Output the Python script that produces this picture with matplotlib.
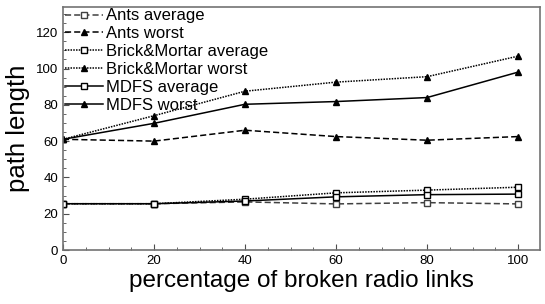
import matplotlib
matplotlib.use('Agg')
import matplotlib.pyplot as plt
from matplotlib.ticker import MultipleLocator

plt.rcParams['font.family'] = ['Liberation Sans', 'DejaVu Sans']

# ====== data ======
x = [0, 20, 40, 60, 80, 100]
ants_avg = [25.5, 25.5, 26.5, 25.4, 26.1, 25.4]
ants_worst = [61, 60, 66, 62.5, 60.5, 62.5]
bm_avg = [25.5, 25.5, 28, 31.5, 33, 34.6]
bm_worst = [61, 74, 87.5, 92.5, 95.5, 106.8]
mdfs_avg = [25.5, 25.5, 27, 29.3, 30.5, 30.8]
mdfs_worst = [61, 69.8, 80.3, 81.8, 84, 98]

# ====== plot ======
fig = plt.figure(figsize=(5.45, 3.04), dpi=100)
ax = fig.add_axes([0.1156, 0.1776, 0.875, 0.80])

sq = dict(marker='s', markersize=4, markerfacecolor='white', markeredgewidth=1.0)
tri = dict(marker='^', markersize=5)
lw = 1.1

ax.plot(x, ants_avg, linestyle=(0, (4, 2)), color='0.25', lw=lw, label='Ants average', **sq)
ax.plot(x, ants_worst, linestyle=(0, (4, 2)), color='black', lw=lw, label='Ants worst', **tri)
ax.plot(x, bm_avg, linestyle=(0, (1, 0.8)), color='black', lw=lw, label='Brick&Mortar average', **sq)
ax.plot(x, bm_worst, linestyle=(0, (1, 0.8)), color='black', lw=lw, label='Brick&Mortar worst', **tri)
ax.plot(x, mdfs_avg, linestyle='-', color='black', lw=lw, label='MDFS average', **sq)
ax.plot(x, mdfs_worst, linestyle='-', color='black', lw=lw, label='MDFS worst', **tri)

ax.set_xlim(0, 104.8)
ax.set_ylim(0, 134)
ax.set_xticks([0, 20, 40, 60, 80, 100])
ax.set_yticks([0, 20, 40, 60, 80, 100, 120])
ax.xaxis.set_minor_locator(MultipleLocator(5))
ax.yaxis.set_minor_locator(MultipleLocator(5))
ax.tick_params(which='both', direction='in', labelsize=9.5, color='0.3')
ax.tick_params(which='major', length=4)
ax.tick_params(which='minor', length=2)
for s in ax.spines.values():
    s.set_color('0.45')
    s.set_linewidth(1.2)

ax.set_xlabel('percentage of broken radio links', fontsize=17.5, labelpad=2)
ax.set_ylabel('path length', fontsize=18.5, labelpad=4)

ax.legend(loc='upper left', bbox_to_anchor=(0, 1), frameon=False, fontsize=12,
          handlelength=2.3, handletextpad=0.15, labelspacing=0.17,
          borderaxespad=0.0, borderpad=0.1)

out = 'out.png'
fig.savefig(out, dpi=100)
plt.close(fig)
